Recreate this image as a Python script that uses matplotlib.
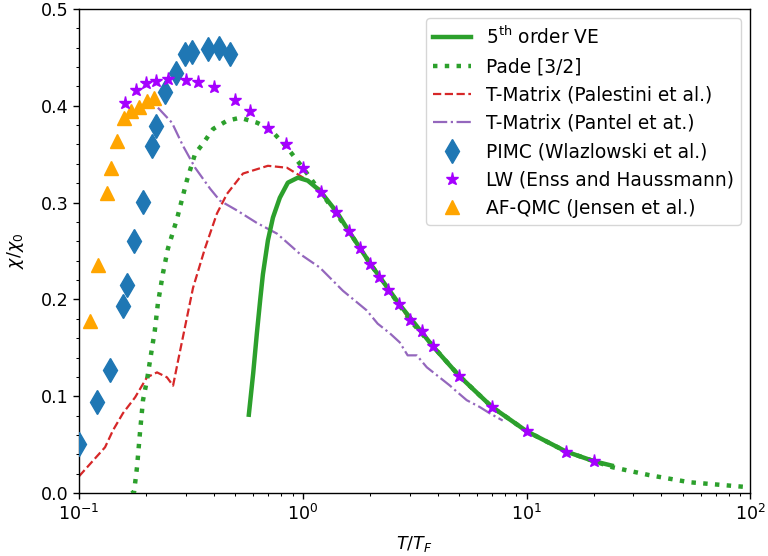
import numpy as np
import matplotlib.pyplot as plt

# 5th order virial expansion
T_ve = [0.5735, 0.60, 0.623, 0.645, 0.663, 0.698, 0.735, 0.789, 0.857, 0.951, 1.052, 1.19,
        1.42, 1.6, 2.0, 2.7, 3.8, 5.0, 7.0, 10.0, 15.0, 20.0, 24.0]
chi_ve = [0.081, 0.124, 0.165, 0.200, 0.226, 0.261, 0.2845, 0.305, 0.3206, 0.3258, 0.3227, 0.3124,
          0.290, 0.271, 0.237, 0.195, 0.152, 0.121, 0.089, 0.064, 0.043, 0.033, 0.0285]

# Pade [3/2]
T_pade = [0.171, 0.176, 0.1815, 0.187, 0.193, 0.201, 0.2075, 0.218, 0.225, 0.237, 0.2495,
          0.274, 0.303, 0.33, 0.358, 0.397, 0.458, 0.524, 0.624, 0.713, 0.849, 1.0, 1.2,
          1.6, 2.0, 3.0, 5.0, 7.0, 10.0, 15.0, 20.0, 24.2, 35.4, 53.4, 100.0]
chi_pade = [0.0, 0.001, 0.027, 0.062, 0.096, 0.1165, 0.137, 0.168, 0.196, 0.227, 0.2526,
            0.2835, 0.3227, 0.3505, 0.361, 0.376, 0.3845, 0.3876, 0.3825, 0.376, 0.357, 0.336, 0.311,
            0.271, 0.237, 0.179, 0.121, 0.089, 0.064, 0.043, 0.033, 0.0268, 0.0186, 0.0113, 0.006]

# T-Matrix (Palestini et al.)
T_pal = [0.1, 0.1306, 0.1418, 0.157, 0.178, 0.201, 0.223, 0.247, 0.263, 0.277, 0.297, 0.323,
         0.365, 0.413, 0.458, 0.54, 0.698, 0.849, 1.0, 1.19, 1.6, 2.0, 3.0, 5.0]
chi_pal = [0.0175, 0.0474, 0.065, 0.0825, 0.099, 0.1196, 0.1247, 0.1196, 0.111, 0.137, 0.171, 0.212,
           0.2526, 0.2887, 0.309, 0.330, 0.338, 0.336, 0.326, 0.314, 0.271, 0.237, 0.179, 0.121]

# T-Matrix (Pantel et al.)
T_pan = [0.225, 0.26, 0.291, 0.33, 0.385, 0.426, 0.507, 0.623, 0.766, 0.902, 0.97, 1.19,
         1.51, 1.93, 2.16, 2.45, 2.71, 2.94, 3.23, 3.58, 3.96, 4.53, 4.92, 5.40, 6.17, 6.84, 7.82]
chi_pan = [0.398, 0.3825, 0.3588, 0.336, 0.3144, 0.302, 0.292, 0.279, 0.268, 0.2536, 0.247, 0.233,
           0.209, 0.1887, 0.175, 0.165, 0.1557, 0.1423, 0.1423, 0.130, 0.122, 0.1113, 0.104, 0.096,
           0.089, 0.0825, 0.075]

# PIMC (Wlazlowski et al.)
T_pimc = [0.1, 0.120, 0.137, 0.157, 0.163, 0.176, 0.193, 0.212, 0.22, 0.242, 0.271, 0.297,
          0.32, 0.377, 0.42, 0.473]
chi_pimc = [0.051, 0.094, 0.127, 0.193, 0.215, 0.26, 0.301, 0.358, 0.379, 0.414, 0.434, 0.453,
            0.455, 0.459, 0.46, 0.453]

# LW (Enss and Haussmann)
T_lw = [0.16, 0.18, 0.2, 0.22, 0.25, 0.3, 0.34, 0.4, 0.5, 0.58, 0.7, 0.84, 1.0, 1.2, 1.4,
        1.6, 1.8, 2.0, 2.2, 2.4, 2.7, 3.0, 3.4, 3.8, 5.0, 7.0, 10.0, 15.0, 20.0]
chi_lw = [0.403, 0.4165, 0.423, 0.426, 0.428, 0.427, 0.425, 0.419, 0.406, 0.395, 0.377, 0.36,
          0.336, 0.311, 0.29, 0.271, 0.253, 0.237, 0.223, 0.21, 0.195, 0.179, 0.167, 0.152,
          0.121, 0.089, 0.064, 0.043, 0.033]

# AF-QMC (Jensen et al.)
T_qmc = [0.112, 0.1216, 0.133, 0.139, 0.148, 0.159, 0.171, 0.185, 0.201, 0.216]
chi_qmc = [0.178, 0.236, 0.310, 0.336, 0.364, 0.387, 0.395, 0.399, 0.405, 0.408]

plt.rcParams.update({
    'font.size': 12.6,
    'xtick.major.size': 4.4, 'ytick.major.size': 4.4,
    'xtick.minor.size': 2.5, 'ytick.minor.size': 2.5,
    'xtick.major.width': 1.0, 'ytick.major.width': 1.0,
    'xtick.minor.width': 0.75, 'ytick.minor.width': 0.75,
    'axes.linewidth': 1.0,
})

fig = plt.figure(figsize=(7.68, 5.56), dpi=100)
ax = fig.add_axes([0.103, 0.113, 0.874, 0.871])

ax.plot(T_pal, chi_pal, '--', color='tab:red', lw=1.6, zorder=2,
        label='T-Matrix (Palestini et al.)')
ax.plot(T_pan, chi_pan, '-.', color='tab:purple', lw=1.6, zorder=2,
        label='T-Matrix (Pantel et at.)')
ax.plot(T_pade, chi_pade, ':', color='tab:green', lw=3.2, zorder=3, label='Pade [3/2]')
ax.plot(T_ve, chi_ve, '-', color='tab:green', lw=3.2, zorder=4, label=r'5$^{\rm th}$ order VE')
ax.plot(T_pimc, chi_pimc, 'd', color='tab:blue', ms=12, ls='none', zorder=5,
        label='PIMC (Wlazlowski et al.)')
ax.plot(T_lw, chi_lw, '*', color='#a500ff', ms=9.5, ls='none', zorder=6,
        label='LW (Enss and Haussmann)')
ax.plot(T_qmc, chi_qmc, '^', color='orange', ms=10.5, ls='none', zorder=5,
        label='AF-QMC (Jensen et al.)')

ax.set_xscale('log')
ax.set_xlim(0.1, 100)
ax.set_ylim(0, 0.5)
ax.set_xlabel(r'$T/T_F$', labelpad=7)
ax.set_ylabel(r'$\chi/\chi_0$', labelpad=10)
ax.minorticks_on()

h, l = ax.get_legend_handles_labels()
order = [3, 2, 0, 1, 4, 5, 6]
ax.legend([h[i] for i in order], [l[i] for i in order], loc='upper right', fontsize=13.4)

fig.savefig('out.png')
